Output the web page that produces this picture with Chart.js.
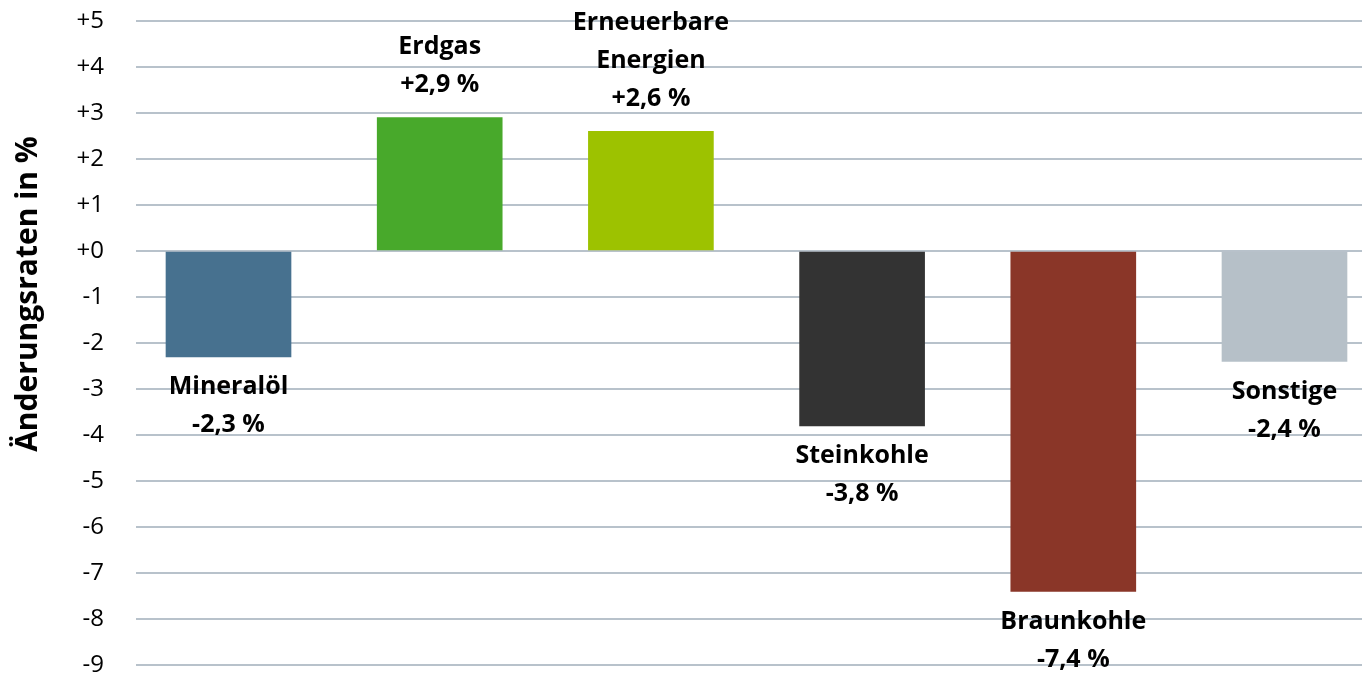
<!DOCTYPE html>
<html lang="de">
<head>
<meta charset="UTF-8">
<title>Änderungsraten Energieverbrauch</title>
<script src="https://cdn.jsdelivr.net/npm/chart.js"></script>
<style>
    html, body { margin: 0; padding: 0; background: #fff; overflow: hidden; }
    #wrap { width: 1362px; height: 676px; }
</style>
</head>
<body>
<div id="wrap"><canvas id="grafico"></canvas></div>
<script>
    // Daten
    var kategorien = ['Mineralöl', 'Erdgas', ['Erneuerbare', 'Energien'], 'Steinkohle', 'Braunkohle', 'Sonstige'];
    var werte = [-2.3, 2.9, 2.6, -3.8, -7.4, -2.4];
    var farben = ['#47718f', '#48a92b', '#9dc200', '#333333', '#8a3628', '#b6c0c8'];
    var y_min = -9;
    var y_max = 5;
    var achsentitel = 'Änderungsraten in %';

    var FONT = '"Open Sans", "Noto Sans", sans-serif';

    function formatWert(v) {
        return (v > 0 ? '+' : '') + v.toFixed(1).replace('.', ',') + ' %';
    }

    var beschriftung = {
        id: 'beschriftung',
        afterDatasetsDraw: function (chart) {
            var ctx = chart.ctx;
            var meta = chart.getDatasetMeta(0);
            ctx.save();
            ctx.fillStyle = '#000';
            ctx.textAlign = 'center';
            ctx.textBaseline = 'middle';
            ctx.font = 'bold 25px ' + FONT;
            meta.data.forEach(function (bar, i) {
                var name = kategorien[i];
                var zeilen = (Array.isArray(name) ? name.slice() : [name]);
                zeilen.push(formatWert(werte[i]));
                var lh = 38;
                if (werte[i] >= 0) {
                    var yLast = bar.y - 33;
                    for (var k = 0; k < zeilen.length; k++) {
                        ctx.fillText(zeilen[k], bar.x, yLast - (zeilen.length - 1 - k) * lh);
                    }
                } else {
                    var yFirst = bar.y + 30;
                    for (var k = 0; k < zeilen.length; k++) {
                        ctx.fillText(zeilen[k], bar.x, yFirst + k * lh);
                    }
                }
            });
            // Achsentitel
            ctx.translate(28, 294);
            ctx.rotate(-Math.PI / 2);
            ctx.font = 'bold 30px ' + FONT;
            ctx.fillText(achsentitel, 0, 0);
            ctx.restore();
        }
    };

    var ctx = document.getElementById('grafico').getContext('2d');

    new Chart(ctx, {
        type: 'bar',
        data: {
            datasets: [{
                data: werte.map(function (v, i) { return { x: i, y: v }; }),
                backgroundColor: farben,
                borderWidth: 0,
                barThickness: 125
            }]
        },
        options: {
            responsive: true,
            maintainAspectRatio: false,
            animation: false,
            layout: { padding: { top: 21, bottom: 11, left: 0, right: 0 } },
            plugins: {
                legend: { display: false },
                tooltip: { enabled: false }
            },
            scales: {
                x: {
                    type: 'linear',
                    display: false,
                    offset: false,
                    min: -0.438,
                    max: 5.367
                },
                y: {
                    min: y_min,
                    max: y_max,
                    afterFit: function (s) {
                        s.width = 136;
                        s.paddingTop = 0;
                        s.paddingBottom = 0;
                    },
                    border: { display: false },
                    grid: {
                        color: '#b8c2cb',
                        lineWidth: 2,
                        drawTicks: false
                    },
                    ticks: {
                        stepSize: 1,
                        padding: 32,
                        color: '#000',
                        font: { family: FONT, size: 24 },
                        callback: function (v) { return v >= 0 ? '+' + v : '' + v; }
                    }
                }
            }
        },
        plugins: [beschriftung]
    });
</script>
</body>
</html>
